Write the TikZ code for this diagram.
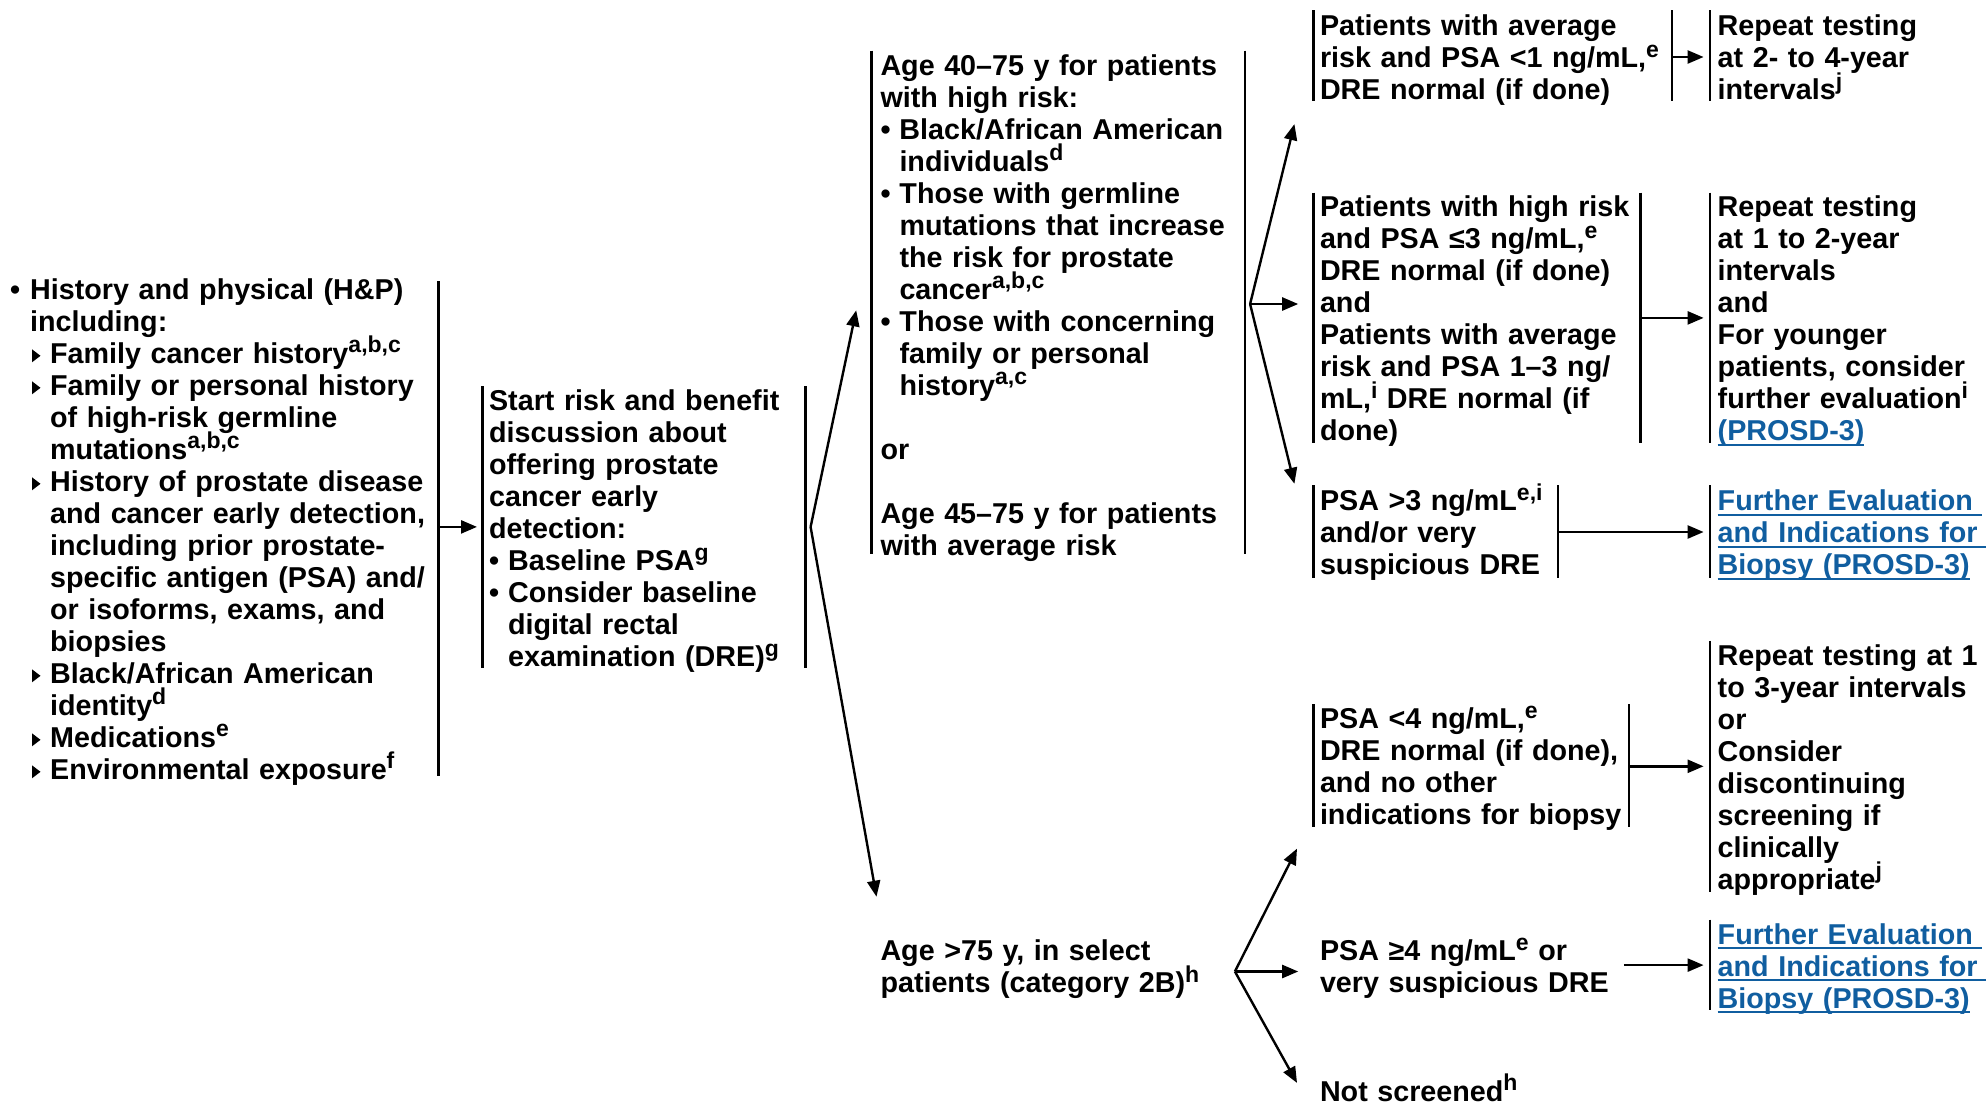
\documentclass[tikz,border=0pt]{standalone}
\usepackage{fontspec}
\setmainfont{Liberation Sans}
\usetikzlibrary{arrows.meta}
\definecolor{linkblue}{RGB}{16,94,160}
\newcommand\bfnt{\fontsize{28.7pt}{32pt}\selectfont\bfseries\lineskiplimit=-100pt\lineskip=0pt\relax}
\newcommand\SUP[1]{\raisebox{10.5pt}{\fontsize{23pt}{23pt}\selectfont #1}}
\newcommand\lnk[1]{\leavevmode{\setbox0\hbox{\color{linkblue}#1}\rlap{\color{linkblue}\rule[-5pt]{\wd0}{2.2pt}}\box0}}
\newcommand\bul{\makebox[19pt][l]{•}}
\newcommand\ind{\hspace*{19pt}}
\begin{document}
\begin{tikzpicture}[x=1pt,y=-1pt,
  txt/.style={anchor=base west, inner sep=0pt, text width=620pt, align=left, font=\bfnt},
  bar/.style={line width=2.6pt},
  arr/.style={line width=2.4pt, -{Triangle[length=16pt,width=13pt]}},
  tri/.style={fill=black}]
\fill[white] (0,0) rectangle (1986,1103);
\useasboundingbox (0,0) rectangle (1986,1103);

% ---------- text blocks ----------
\node[txt] (L) at (10,299.3) {%
\makebox[20pt][l]{•}History and physical (H\&P)\\
\hspace*{20pt}including:\\
\hspace*{40pt}Family cancer history\SUP{a,b,c}\\
\hspace*{40pt}Family or personal history\\
\hspace*{40pt}of high-risk germline\\
\hspace*{40pt}mutations\SUP{a,b,c}\\
\hspace*{40pt}History of prostate disease\\
\hspace*{40pt}and cancer early detection,\\
\hspace*{40pt}including prior prostate-\\
\hspace*{40pt}specific antigen (PSA) and/\\
\hspace*{40pt}or isoforms, exams, and\\
\hspace*{40pt}biopsies\\
\hspace*{40pt}Black/African American\\
\hspace*{40pt}identity\SUP{d}\\
\hspace*{40pt}Medications\SUP{e}\\
\hspace*{40pt}Environmental exposure\SUP{f}};
\foreach \k in {2,3,6,12,14,15}
  \fill[tri] (32,299.3+32*\k-1) -- (32,299.3+32*\k-14) -- (40.5,299.3+32*\k-7.5) -- cycle;

\node[txt] (S) at (488.9,410.7) {%
Start risk and benefit\\
discussion about\\
offering prostate\\
cancer early\\
detection:\\
\bul Baseline PSA\SUP{g}\\
\bul Consider baseline\\
\ind digital rectal\\
\ind examination (DRE)\SUP{g}};

\node[txt] (A) at (880.3,75.1) {%
Age 40–75 y for patients\\
with high risk:\\
\bul Black/African American\\
\ind individuals\SUP{d}\\
\bul Those with germline\\
\ind mutations that increase\\
\ind the risk for prostate\\
\ind cancer\SUP{a,b,c}\\
\bul Those with concerning\\
\ind family or personal\\
\ind history\SUP{a,c}\\
\mbox{}\\
or\\
\mbox{}\\
Age 45–75 y for patients\\
with average risk};

\node[txt] (O) at (880.3,960.5) {%
Age >75 y, in select\\
patients (category 2B)\SUP{h}};

\node[txt] (P1) at (1319.8,35.8) {%
Patients with average\\
risk and PSA <1 ng/mL,\SUP{e}\\
DRE normal (if done)};
\node[txt] (R1) at (1717.5,35.8) {%
Repeat testing\\
at 2- to 4-year\\
intervals\SUP{j}};

\node[txt] (P2) at (1319.8,216.9) {%
Patients with high risk\\
and PSA ≤3 ng/mL,\SUP{e}\\
DRE normal (if done)\\
and\\
Patients with average\\
risk and PSA 1–3 ng/\\
mL,\SUP{i} DRE normal (if\\
done)};
\node[txt] (R2) at (1717.5,216.9) {%
Repeat testing\\
at 1 to 2-year\\
intervals\\
and\\
For younger\\
patients, consider\\
further evaluation\SUP{i}\\
\lnk{(PROSD-3)}};

\node[txt] (P3) at (1319.8,510.8) {%
PSA >3 ng/mL\SUP{e,i}\\
and/or very\\
suspicious DRE};
\node[txt] (R3) at (1717.5,510.8) {%
\lnk{Further Evaluation\ }\\
\lnk{and Indications for\ }\\
\lnk{Biopsy (PROSD-3)}};

\node[txt] (P4) at (1319.8,728.7) {%
PSA <4 ng/mL,\SUP{e}\\
DRE normal (if done),\\
and no other\\
indications for biopsy};
\node[txt] (R4) at (1717.5,665.3) {%
Repeat testing at 1\\
to 3-year intervals\\
or\\
Consider\\
discontinuing\\
screening if\\
clinically\\
appropriate\SUP{j}};

\node[txt] (P5) at (1319.8,960.5) {%
PSA ≥4 ng/mL\SUP{e} or\\
very suspicious DRE};
\node[txt] (R5) at (1717.5,944) {%
\lnk{Further Evaluation\ }\\
\lnk{and Indications for\ }\\
\lnk{Biopsy (PROSD-3)}};

\node[txt] (P6) at (1319.8,1101) {Not screened\SUP{h}};

% ---------- bars ----------
\draw[bar] (438.2,281) -- (438.2,776);
\draw[bar] (482.6,386.3) -- (482.6,667.5);
\draw[bar] (805.6,386.3) -- (805.6,667.5);
\draw[bar] (871.4,50.7) -- (871.4,554);
\draw[bar] (1245.1,50.7) -- (1245.1,554);
\draw[bar] (1313.4,10.1) -- (1313.4,101.3);
\draw[bar] (1671.9,10.1) -- (1671.9,101.3);
\draw[bar] (1709.9,10.1) -- (1709.9,101.3);
\draw[bar] (1313.4,192.5) -- (1313.4,443.3);
\draw[bar] (1640.2,192.5) -- (1640.2,443.3);
\draw[bar] (1709.9,192.5) -- (1709.9,443.3);
\draw[bar] (1313.4,485.1) -- (1313.4,577.6);
\draw[bar] (1557.9,485.1) -- (1557.9,577.6);
\draw[bar] (1709.9,485.1) -- (1709.9,577.6);
\draw[bar] (1313.4,704.2) -- (1313.4,827.1);
\draw[bar] (1628.8,704.2) -- (1628.8,827.1);
\draw[bar] (1709.9,640.9) -- (1709.9,891.7);
\draw[bar] (1709.9,919.5) -- (1709.9,1009.5);

% ---------- connector points ----------
\coordinate (Lout) at (438.2,526.9);
\coordinate (Sin)  at (477,526.9);
\coordinate (Sv)   at (810.6,526.9);
\coordinate (Ain)  at (856.2,310.3);
\coordinate (Oin)  at (876.5,896.7);
\coordinate (Av)   at (1250.1,304);
\coordinate (P1in) at (1294.4,124.1);
\coordinate (P2in) at (1298.2,304);
\coordinate (P3in) at (1294.4,483.8);
\coordinate (Ov)   at (1234.9,971.5);
\coordinate (P4in) at (1297,848.6);
\coordinate (P5in) at (1298.2,971.5);
\coordinate (P6in) at (1297,1082.9);
\coordinate (P1out) at (1671.9,57);   \coordinate (R1in) at (1703.6,57);
\coordinate (P2out) at (1640.2,317.9);\coordinate (R2in) at (1703.6,317.9);
\coordinate (P3out) at (1557.9,532);  \coordinate (R3in) at (1703.6,532);
\coordinate (P4out) at (1628.8,766.3);\coordinate (R4in) at (1703.6,766.3);
\coordinate (P5out) at (1623.8,965.1);\coordinate (R5in) at (1703.6,965.1);

% ---------- connectors ----------
\draw[arr] (Lout) -- (Sin);
\draw[arr] (Sv) -- (Ain);
\draw[arr] (Sv) -- (Oin);
\draw[arr] (Av) -- (P1in);
\draw[arr] (Av) -- (P2in);
\draw[arr] (Av) -- (P3in);
\draw[arr] (Ov) -- (P4in);
\draw[arr] (Ov) -- (P5in);
\draw[arr] (Ov) -- (P6in);
\draw[arr] (P1out) -- (R1in);
\draw[arr] (P2out) -- (R2in);
\draw[arr] (P3out) -- (R3in);
\draw[arr] (P4out) -- (R4in);
\draw[arr] (P5out) -- (R5in);
\end{tikzpicture}
\end{document}
